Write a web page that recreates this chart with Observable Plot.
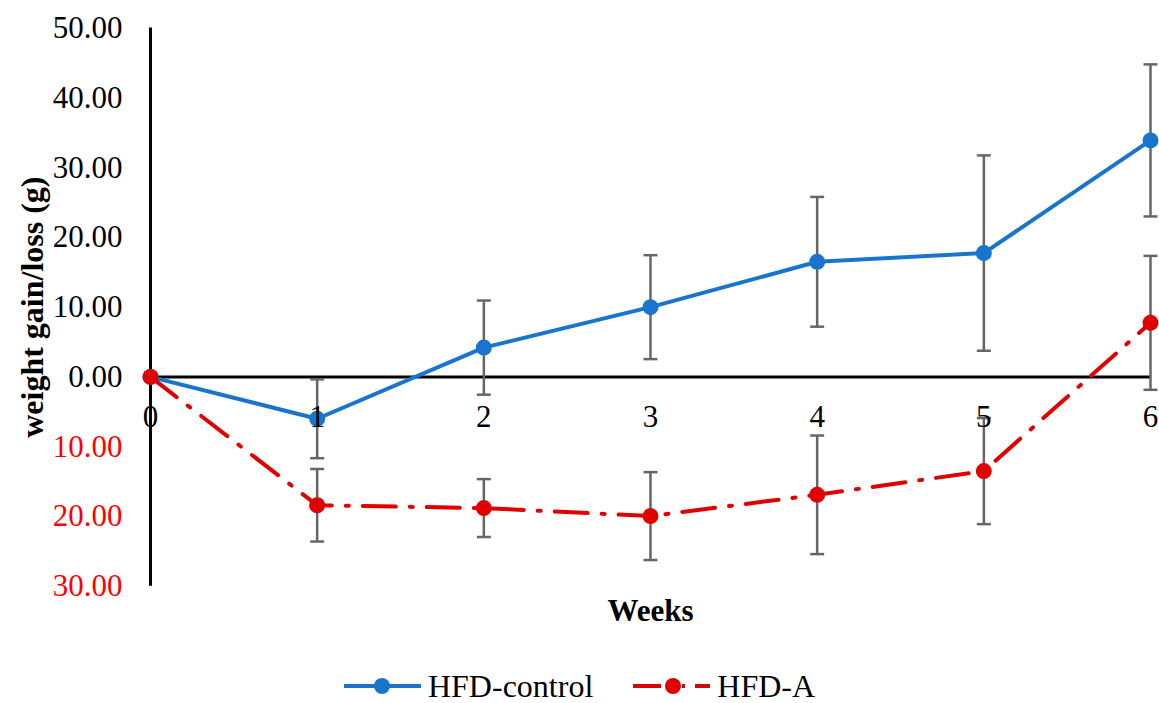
<!DOCTYPE html>
<html>
<head>
<meta charset="utf-8">
<script src="https://cdn.jsdelivr.net/npm/d3@7"></script>
<script src="https://cdn.jsdelivr.net/npm/@observablehq/plot@0.6"></script>
<style>
  html, body { margin: 0; padding: 0; background: white; overflow: hidden; }
  #chart { width: 1159px; height: 650px; }
  #chart svg { display: block; }
  .legend { display: flex; justify-content: center; align-items: center; height: 32px; line-height: 32px;
    font-family: "Liberation Serif", "Times New Roman", serif; font-size: 32px; color: #000;
    padding-left: 0px; box-sizing: border-box; margin-top: 20px; }
  .legend .item { display: flex; align-items: center; }
  .legend .item svg { margin-right: 7px; display: block; }
  .legend .item + .item { margin-left: 40px; }
</style>
</head>
<body>
<div id="chart"></div>
<script>
const weeks = [0, 1, 2, 3, 4, 5, 6];
const seriesNames = ["HFD-control", "HFD-A"];
const controlMean = [0, -6.0, 4.2, 10.0, 16.5, 17.75, 33.9];
const controlErr  = [0, 5.65, 6.75, 7.45, 9.3, 14.0, 10.9];
const aMean = [0, -18.4, -18.8, -19.95, -16.9, -13.5, 7.75];
const aErr  = [0, 5.2, 4.15, 6.3, 8.5, 7.6, 9.6];
const yTicks = [50, 40, 30, 20, 10, 0, -10, -20, -30];
const xTicks = [0, 1, 2, 3, 4, 5, 6];

const blue = "#1874cd";
const red = "#e00000";
const errColor = "#666666";

const control = weeks.map((w, i) => ({week: w, mean: controlMean[i], err: controlErr[i]}));
const groupA = weeks.map((w, i) => ({week: w, mean: aMean[i], err: aErr[i]}));
const errs = [...control, ...groupA].filter(d => d.err > 0);

const capSymbol = {
  draw(context, size) {
    const w = Math.sqrt(size / Math.PI);
    context.moveTo(-w, 0);
    context.lineTo(w, 0);
  }
};

const chart = Plot.plot({
  width: 1159,
  height: 650,
  marginLeft: 150,
  marginRight: 9,
  marginTop: 27.6,
  marginBottom: 64.3,
  x: {domain: [0, 6], axis: null},
  y: {domain: [-30, 50], axis: null},
  style: {fontFamily: "'Liberation Serif', 'Times New Roman', serif", background: "white", color: "black"},
  marks: [
    Plot.ruleX([0], {stroke: "black", strokeWidth: 3}),
    Plot.ruleY([0], {stroke: "black", strokeWidth: 3}),
    Plot.ruleX(errs, {x: "week", y1: d => d.mean - d.err, y2: d => d.mean + d.err, stroke: errColor, strokeWidth: 2.5}),
    Plot.dot(errs, {x: "week", y: d => d.mean - d.err, symbol: capSymbol, r: 7, stroke: errColor, strokeWidth: 2.5, fill: "none"}),
    Plot.dot(errs, {x: "week", y: d => d.mean + d.err, symbol: capSymbol, r: 7, stroke: errColor, strokeWidth: 2.5, fill: "none"}),
    Plot.line(control, {x: "week", y: "mean", stroke: blue, strokeWidth: 4}),
    Plot.dot(control, {x: "week", y: "mean", r: 8, fill: blue}),
    Plot.line(groupA, {x: "week", y: "mean", stroke: red, strokeWidth: 4, strokeDasharray: "33,14,3,14"}),
    Plot.dot(groupA, {x: "week", y: "mean", r: 8, fill: red}),
    Plot.text(xTicks, {x: d => d, y: () => 0, text: d => String(d), dy: 40, fontSize: 31, fill: "black"}),
    Plot.text(yTicks.filter(d => d >= 0), {y: d => d, frameAnchor: "left", dx: -28, textAnchor: "end", text: d => Math.abs(d).toFixed(2), fontSize: 31, fill: "black"}),
    Plot.text(yTicks.filter(d => d < 0), {y: d => d, frameAnchor: "left", dx: -28, textAnchor: "end", text: d => Math.abs(d).toFixed(2), fontSize: 31, fill: "#ff0000"}),
    Plot.text(["Weeks"], {frameAnchor: "bottom", lineAnchor: "middle", textAnchor: "middle", dy: 25, text: d => d, fontSize: 31, fontWeight: "bold", fill: "black"}),
    Plot.text(["weight gain/loss (g)"], {frameAnchor: "left", textAnchor: "middle", lineAnchor: "middle", dx: -118, rotate: -90, text: d => d, fontSize: 32, fontWeight: "bold", fill: "black"})
  ]
});
document.getElementById("chart").appendChild(chart);

const legend = document.createElement("div");
legend.className = "legend";
legend.innerHTML = `
  <div class="item">
    <svg width="77" height="20"><line x1="0" y1="10" x2="77" y2="10" stroke="${blue}" stroke-width="4"/><circle cx="38" cy="10" r="8" fill="${blue}"/></svg>
    <span>${seriesNames[0]}</span>
  </div>
  <div class="item">
    <svg width="77" height="20"><line x1="0" y1="10" x2="28" y2="10" stroke="${red}" stroke-width="4"/><line x1="49" y1="10" x2="52" y2="10" stroke="${red}" stroke-width="4"/><line x1="62" y1="10" x2="77" y2="10" stroke="${red}" stroke-width="4"/><circle cx="40" cy="10" r="8" fill="${red}"/></svg>
    <span>${seriesNames[1]}</span>
  </div>`;
document.body.appendChild(legend);
</script>
</body>
</html>
